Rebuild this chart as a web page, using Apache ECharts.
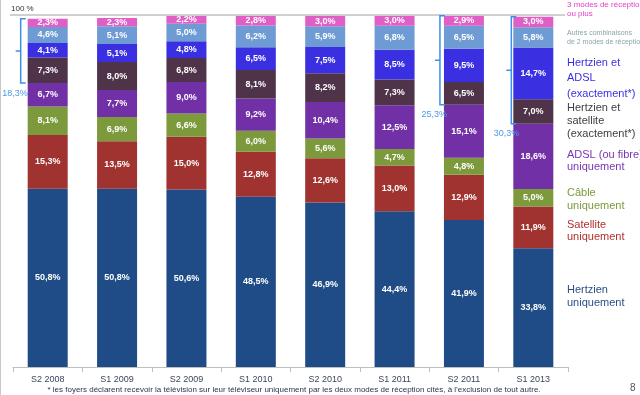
<!DOCTYPE html>
<html><head><meta charset="utf-8">
<script src="https://cdn.jsdelivr.net/npm/echarts@6/dist/echarts.min.js"></script>
<style>html,body{margin:0;padding:0;background:#fff}#c{width:640px;height:395px}</style>
</head><body><div id="c"></div>
<script>
var categories = ['S2 2008','S1 2009','S2 2009','S1 2010','S2 2010','S1 2011','S2 2011','S1 2013'];
var hertzienSeul = [50.8,50.8,50.6,48.5,46.9,44.4,41.9,33.8];
var satelliteSeul = [15.3,13.5,15.0,12.8,12.6,13.0,12.9,11.9];
var cableSeul = [8.1,6.9,6.6,6.0,5.6,4.7,4.8,5.0];
var adslSeul = [6.7,7.7,9.0,9.2,10.4,12.5,15.1,18.6];
var hertzienSat = [7.3,8.0,6.8,8.1,8.2,7.3,6.5,7.0];
var hertzienAdsl = [4.1,5.1,4.8,6.5,7.5,8.5,9.5,14.7];
var autres = [4.6,5.1,5.0,6.2,5.9,6.8,6.5,5.8];
var troisModes = [2.3,2.3,2.2,2.8,3.0,3.0,2.9,3.0];
var bracketCats = ['S2 2008','S2 2011','S1 2013'];
var bracketLabels = ['18,3%','25,3%','30,3%'];
var legendNames = ['Hertzien\nuniquement','Satellite\nuniquement','Câble\nuniquement','ADSL (ou fibre)\nuniquement','Hertzien et\nsatellite\n(exactement*)','Hertzien et\nADSL\n(exactement*)','Autres combinaisons\nde 2 modes de réception','3 modes de réception\nou plus'];
var footnote = '* les foyers déclarent recevoir la télévision sur leur téléviseur uniquement par les deux modes de réception cités, à l\u2019exclusion de tout autre.';

var colors = ['#1f4c87','#a0322f','#7c9a3b','#7230a6','#4f3449','#3b2fe2','#6e9bd3','#e05fc6'];
var textColors = ['#2a4f85','#b0302c','#7c9a3b','#7a35b0','#404040','#3b2fe2','#8aa3a8','#e23fc4'];
var seriesData = [hertzienSeul,satelliteSeul,cableSeul,adslSeul,hertzienSat,hertzienAdsl,autres,troisModes];

var chart = echarts.init(document.getElementById('c'));
var series = seriesData.map(function(d,i){
  return {
    type:'bar', stack:'t', name:legendNames[i], data:d, barWidth:40,
    itemStyle:{color:colors[i]},
    label:{show:true, position:'inside', color:'#fff', fontWeight:'bold', fontSize:9,
      fontFamily:'Liberation Sans, Arial, sans-serif',
      formatter:function(p){return p.value.toFixed(1).replace('.',',')+'%';}}
  };
});
chart.setOption({
  animation:false,
  grid:{left:13,right:72,top:16,bottom:28},
  xAxis:{type:'category',data:categories,
    axisLine:{lineStyle:{color:'#bfbfbf'}},
    axisTick:{show:true,length:5,lineStyle:{color:'#bfbfbf'}},
    axisLabel:{fontSize:9,color:'#3a4660',margin:8,fontFamily:'Liberation Sans, Arial, sans-serif'}},
  yAxis:{type:'value',min:0,max:100,show:false,splitLine:{show:false}},
  series:series
});

var g = [];
// left border
g.push({type:'line',z:100,shape:{x1:0.5,y1:0,x2:0.5,y2:395},style:{stroke:'#c8c8c8',lineWidth:1}});
// 100% line
var y100 = chart.convertToPixel({yAxisIndex:0},100);
g.push({type:'line',z:100,shape:{x1:10,y1:y100-1,x2:565,y2:y100-1},style:{stroke:'#a0a0a0',lineWidth:1}});
g.push({type:'text',z:100,x:11,y:y100-11,style:{text:'100 %',fontSize:8,fill:'#333',fontFamily:'Liberation Sans, Arial, sans-serif'}});
// brackets
var bOff = [-27,-24,-22];
var lOff = [7,7,8];
bracketCats.forEach(function(c,k){
  var i = categories.indexOf(c);
  var total = 0; seriesData.forEach(function(s){total+=s[i];});
  var lower = total - troisModes[i]-autres[i]-hertzienAdsl[i]-hertzienSat[i];
  var cx = chart.convertToPixel({xAxisIndex:0},c);
  var yT = chart.convertToPixel({yAxisIndex:0},total);
  var yB = chart.convertToPixel({yAxisIndex:0},lower);
  var x = cx + bOff[k];
  var ym = (yT+yB)/2;
  g.push({type:'polyline',z:100,shape:{points:[[x+5,yT],[x,yT],[x,ym],[x-5,ym],[x,ym],[x,yB],[x+5,yB]]},
    style:{stroke:'#3d8fea',lineWidth:1.5,fill:null}});
  g.push({type:'text',z:101,x:x+lOff[k],y:yB+10,style:{text:bracketLabels[k],fontSize:9,fill:'#4a9ae8',align:'right',verticalAlign:'middle',fontFamily:'Liberation Sans, Arial, sans-serif'}});
});
// right legend texts
var legPos = [
  {y:296,fs:11,lh:13},
  {y:231,fs:11,lh:12},
  {y:199,fs:11,lh:13},
  {y:161,fs:11,lh:12},
  {y:121,fs:11,lh:13},
  {y:78,fs:11,lh:15.5},
  {y:38,fs:7,lh:9},
  {y:9,fs:8,lh:9}
];
legendNames.forEach(function(n,i){
  g.push({type:'text',z:100,x:567,y:legPos[i].y,style:{text:n,fontSize:legPos[i].fs,lineHeight:legPos[i].lh,fill:textColors[i],verticalAlign:'middle',fontFamily:'Liberation Sans, Arial, sans-serif'}});
});
g.push({type:'text',z:100,x:294,y:390,style:{text:footnote,fontSize:8,fill:'#2b3550',align:'center',verticalAlign:'middle',fontFamily:'Liberation Sans Narrow, Arial Narrow, Liberation Sans, sans-serif'}});
g.push({type:'text',z:100,x:630,y:388,style:{text:'8',fontSize:10,fill:'#555',verticalAlign:'middle',fontFamily:'Liberation Sans, Arial, sans-serif'}});
chart.setOption({graphic:g});
</script></body></html>
